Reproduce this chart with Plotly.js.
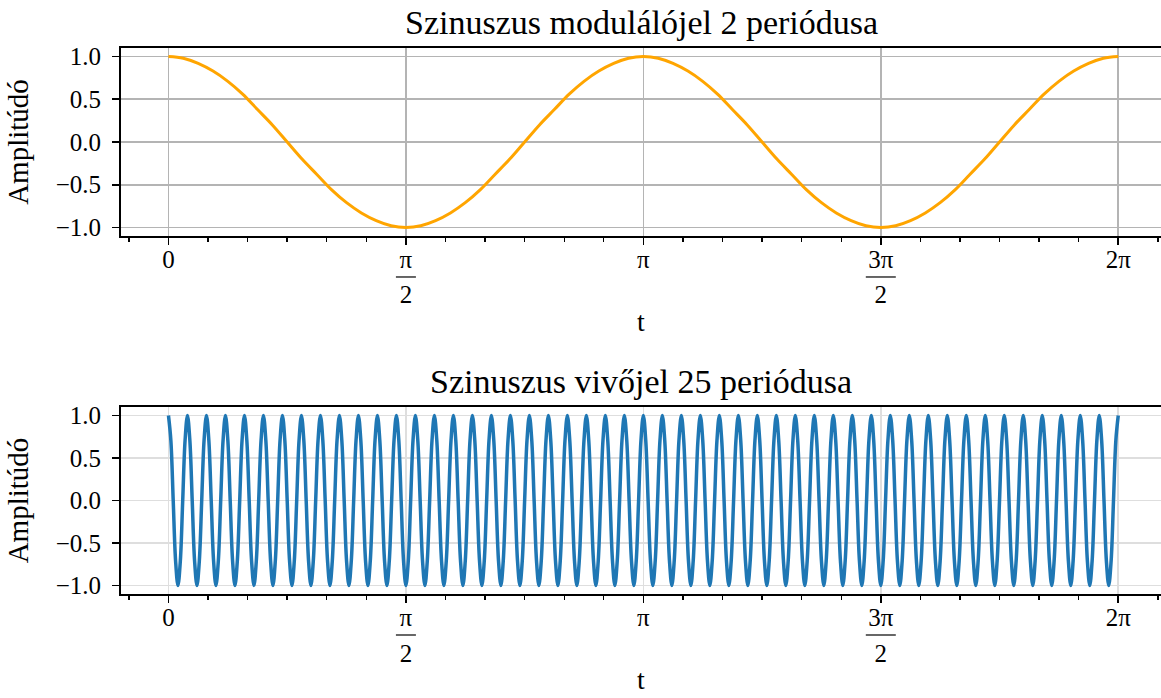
<!DOCTYPE html>
<html>
<head>
<meta charset="utf-8">
<script src="https://cdn.plot.ly/plotly-3.0.1.min.js"></script>
<style>html,body{margin:0;padding:0;background:#fff;}</style>
</head>
<body>
<div id="chart" style="width:1161px;height:698px;"></div>
<script>
// ---- data ----
const titles = ["Szinuszus modulálójel 2 periódusa", "Szinuszus vivőjel 25 periódusa"];
const xTitle = "t";
const yTitle = "Amplitúdó";

// x tick positions (multiples of pi) and labels (fractions get a bar drawn under the numerator)
const xTickVals = [0, Math.PI / 2, Math.PI, 3 * Math.PI / 2, 2 * Math.PI];
const xTickNum = ["0", "π", "π", "3π", "2π"];
const xTickDen = ["", "2", "", "2", ""];
const yTickVals = [-1.0, -0.5, 0.0, 0.5, 1.0];
const yTickText = ["−1.0", "−0.5", "0.0", "0.5", "1.0"];

// sample spacing along t
const modStep = Math.PI / 32;
const carStep = Math.PI / 200;

// modulating signal: 2 periods over [0, 2π], sampled every π/32
const modulating = [
  1, 0.98, 0.92, 0.83, 0.71, 0.56, 0.38, 0.2, 0, -0.2, -0.38, -0.56, -0.71, -0.83, -0.92, -0.98,
  -1, -0.98, -0.92, -0.83, -0.71, -0.56, -0.38, -0.2, 0, 0.2, 0.38, 0.56, 0.71, 0.83, 0.92, 0.98,
  1, 0.98, 0.92, 0.83, 0.71, 0.56, 0.38, 0.2, 0, -0.2, -0.38, -0.56, -0.71, -0.83, -0.92, -0.98,
  -1, -0.98, -0.92, -0.83, -0.71, -0.56, -0.38, -0.2, 0, 0.2, 0.38, 0.56, 0.71, 0.83, 0.92, 0.98,
  1
];

// carrier signal as drawn: 50 oscillations over [0, 2π], sampled every π/200
const carrier = [
  1, 0.71, 0, -0.71, -1, -0.71, 0, 0.71,
  1, 0.71, 0, -0.71, -1, -0.71, 0, 0.71,
  1, 0.71, 0, -0.71, -1, -0.71, 0, 0.71,
  1, 0.71, 0, -0.71, -1, -0.71, 0, 0.71,
  1, 0.71, 0, -0.71, -1, -0.71, 0, 0.71,
  1, 0.71, 0, -0.71, -1, -0.71, 0, 0.71,
  1, 0.71, 0, -0.71, -1, -0.71, 0, 0.71,
  1, 0.71, 0, -0.71, -1, -0.71, 0, 0.71,
  1, 0.71, 0, -0.71, -1, -0.71, 0, 0.71,
  1, 0.71, 0, -0.71, -1, -0.71, 0, 0.71,
  1, 0.71, 0, -0.71, -1, -0.71, 0, 0.71,
  1, 0.71, 0, -0.71, -1, -0.71, 0, 0.71,
  1, 0.71, 0, -0.71, -1, -0.71, 0, 0.71,
  1, 0.71, 0, -0.71, -1, -0.71, 0, 0.71,
  1, 0.71, 0, -0.71, -1, -0.71, 0, 0.71,
  1, 0.71, 0, -0.71, -1, -0.71, 0, 0.71,
  1, 0.71, 0, -0.71, -1, -0.71, 0, 0.71,
  1, 0.71, 0, -0.71, -1, -0.71, 0, 0.71,
  1, 0.71, 0, -0.71, -1, -0.71, 0, 0.71,
  1, 0.71, 0, -0.71, -1, -0.71, 0, 0.71,
  1, 0.71, 0, -0.71, -1, -0.71, 0, 0.71,
  1, 0.71, 0, -0.71, -1, -0.71, 0, 0.71,
  1, 0.71, 0, -0.71, -1, -0.71, 0, 0.71,
  1, 0.71, 0, -0.71, -1, -0.71, 0, 0.71,
  1, 0.71, 0, -0.71, -1, -0.71, 0, 0.71,
  1, 0.71, 0, -0.71, -1, -0.71, 0, 0.71,
  1, 0.71, 0, -0.71, -1, -0.71, 0, 0.71,
  1, 0.71, 0, -0.71, -1, -0.71, 0, 0.71,
  1, 0.71, 0, -0.71, -1, -0.71, 0, 0.71,
  1, 0.71, 0, -0.71, -1, -0.71, 0, 0.71,
  1, 0.71, 0, -0.71, -1, -0.71, 0, 0.71,
  1, 0.71, 0, -0.71, -1, -0.71, 0, 0.71,
  1, 0.71, 0, -0.71, -1, -0.71, 0, 0.71,
  1, 0.71, 0, -0.71, -1, -0.71, 0, 0.71,
  1, 0.71, 0, -0.71, -1, -0.71, 0, 0.71,
  1, 0.71, 0, -0.71, -1, -0.71, 0, 0.71,
  1, 0.71, 0, -0.71, -1, -0.71, 0, 0.71,
  1, 0.71, 0, -0.71, -1, -0.71, 0, 0.71,
  1, 0.71, 0, -0.71, -1, -0.71, 0, 0.71,
  1, 0.71, 0, -0.71, -1, -0.71, 0, 0.71,
  1, 0.71, 0, -0.71, -1, -0.71, 0, 0.71,
  1, 0.71, 0, -0.71, -1, -0.71, 0, 0.71,
  1, 0.71, 0, -0.71, -1, -0.71, 0, 0.71,
  1, 0.71, 0, -0.71, -1, -0.71, 0, 0.71,
  1, 0.71, 0, -0.71, -1, -0.71, 0, 0.71,
  1, 0.71, 0, -0.71, -1, -0.71, 0, 0.71,
  1, 0.71, 0, -0.71, -1, -0.71, 0, 0.71,
  1, 0.71, 0, -0.71, -1, -0.71, 0, 0.71,
  1, 0.71, 0, -0.71, -1, -0.71, 0, 0.71,
  1, 0.71, 0, -0.71, -1, -0.71, 0, 0.71,
  1
];

// ---- styling ----
const FONT = "Liberation Serif, Times New Roman, serif";
const TICK_GLYPH = 25;

const xTickText = xTickNum.map((n, i) => {
  const num = "<span style='font-size:" + TICK_GLYPH + "px'>" + n + "</span>";
  return xTickDen[i] ? num + "<br><span style='font-size:" + TICK_GLYPH + "px'>" + xTickDen[i] + "</span>" : num;
});

const traces = [
  {
    type: "scatter", mode: "lines", x0: 0, dx: modStep, y: modulating,
    xaxis: "x", yaxis: "y",
    line: {color: "#FFA500", width: 3, shape: "spline", smoothing: 1},
    hoverinfo: "skip", showlegend: false
  },
  {
    type: "scatter", mode: "lines", x0: 0, dx: carStep, y: carrier,
    xaxis: "x2", yaxis: "y2",
    line: {color: "#1f77b4", width: 3.5, shape: "spline", smoothing: 1},
    hoverinfo: "skip", showlegend: false
  }
];

function xAxis(gridColor, anchor) {
  return {
    anchor: anchor,
    range: [-0.314, 6.566],
    tickmode: "array", tickvals: xTickVals, ticktext: xTickText,
    tickfont: {family: FONT, size: 27, color: "#000"},
    ticks: "outside", ticklen: 7, tickwidth: 1.6, tickcolor: "#000",
    ticklabelstandoff: -9,
    minor: {tickmode: "linear", tick0: 0, dtick: Math.PI / 12, ticks: "outside", ticklen: 4, tickwidth: 1.4, tickcolor: "#000", showgrid: false},
    showline: true, linecolor: "#000", linewidth: 2, mirror: true,
    showgrid: true, gridcolor: gridColor, gridwidth: 1.6,
    zeroline: false,
    title: {text: xTitle, font: {family: FONT, size: 28, color: "#000"}, standoff: 4}
  };
}
function yAxis(gridColor, domain, anchor) {
  return {
    anchor: anchor,
    domain: domain,
    range: [-1.1, 1.1],
    tickmode: "array", tickvals: yTickVals, ticktext: yTickText,
    tickfont: {family: FONT, size: 25, color: "#000"},
    ticks: "outside", ticklen: 7, tickwidth: 1.6, tickcolor: "#000",
    ticklabelstandoff: 6,
    showline: true, linecolor: "#000", linewidth: 2,
    showgrid: true, gridcolor: gridColor, gridwidth: 1.6,
    zeroline: false,
    title: {text: yTitle, font: {family: FONT, size: 29, color: "#000"}, standoff: 18}
  };
}

const topDomain = [0.6557, 1];
const botDomain = [0, 0.3425];

// fraction bars under the numerators of the π/2 and 3π/2 tick labels
const shapes = [];
[[topDomain[0], "x"], [botDomain[0], "x2"]].forEach(([yBase, xr]) => {
  xTickVals.forEach((v, i) => {
    if (!xTickDen[i]) return;
    const half = xTickNum[i].length > 1 ? 15 : 10;
    shapes.push({
      type: "line", layer: "above",
      xref: xr, xsizemode: "pixel", xanchor: v, x0: -half, x1: half,
      yref: "paper", ysizemode: "pixel", yanchor: yBase, y0: -41, y1: -41,
      line: {color: "#000", width: 1.2}
    });
  });
});

const layout = {
  width: 1161, height: 698,
  margin: {l: 121, r: 0, t: 48, b: 104},
  paper_bgcolor: "#fff", plot_bgcolor: "#fff",
  font: {family: FONT, color: "#000"},
  showlegend: false,
  xaxis: xAxis("#b4b4b4", "y"),
  yaxis: yAxis("#b4b4b4", topDomain, "x"),
  xaxis2: xAxis("#dedede", "y2"),
  yaxis2: yAxis("#dedede", botDomain, "x2"),
  shapes: shapes,
  annotations: [
    {text: titles[0], xref: "x domain", yref: "y domain", x: 0.5, y: 1, xanchor: "center", yanchor: "bottom", yshift: 5, showarrow: false, font: {family: FONT, size: 34, color: "#000"}},
    {text: titles[1], xref: "x2 domain", yref: "y2 domain", x: 0.5, y: 1, xanchor: "center", yanchor: "bottom", yshift: 5, showarrow: false, font: {family: FONT, size: 34, color: "#000"}}
  ]
};

Plotly.newPlot("chart", traces, layout, {displayModeBar: false, staticPlot: true});
</script>
</body>
</html>
